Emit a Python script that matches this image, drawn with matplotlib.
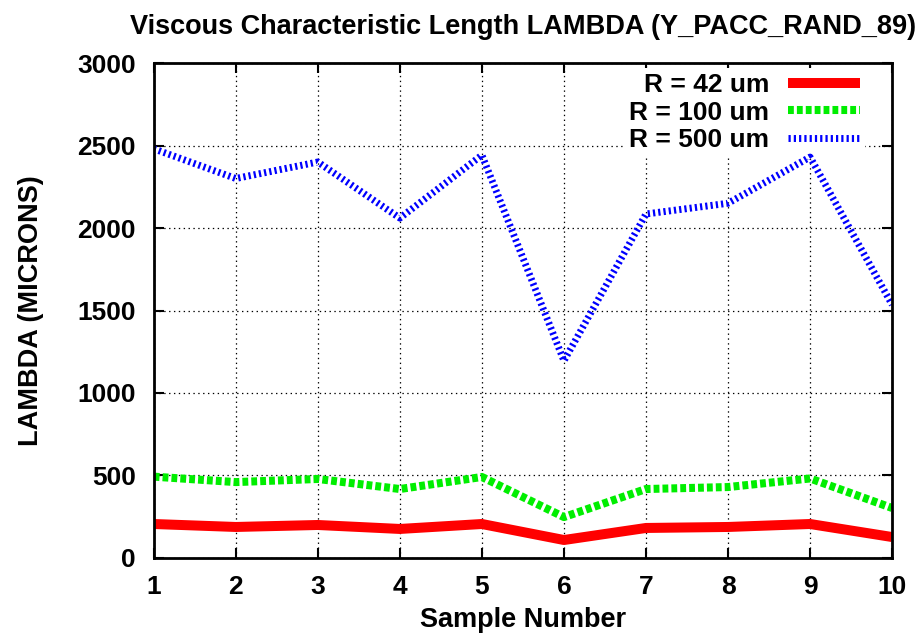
import numpy as np
import matplotlib.pyplot as plt

plt.rcParams['font.family'] = ['Liberation Sans', 'DejaVu Sans']
plt.rcParams['font.weight'] = 'bold'
plt.rcParams['lines.scale_dashes'] = False

samples = [1, 2, 3, 4, 5, 6, 7, 8, 9, 10]
r42 = [206, 188, 200, 176, 206, 109, 182, 188, 206, 127]
r100 = [493, 460, 479, 418, 491, 248, 418, 430, 482, 303]
r500 = [2480, 2300, 2400, 2060, 2442, 1195, 2085, 2150, 2430, 1535]
labels = ['R = 42 um', 'R = 100 um', 'R = 500 um']

fig = plt.figure(figsize=(9.15, 6.41), dpi=100)
ax = fig.add_axes([0.168, 0.1295, 0.807, 0.7722])

ax.plot(samples, r42, color='#ff0000', lw=7.2, solid_capstyle='butt', label=labels[0])
ax.plot(samples, r100, color='#00ee00', lw=5.8, dashes=(4.2, 2.2), label=labels[1])
ax.plot(samples, r500, color='#0000ff', lw=5.0, dashes=(1.6, 2.2), label=labels[2])

ax.set_xlim(1, 10)
ax.set_ylim(0, 3000)
ax.set_xticks(samples)
ax.set_yticks(np.arange(0, 3001, 500))
ax.tick_params(direction='in', length=7, width=1.5, top=True, right=True, labelsize=19)
ax.tick_params(axis='y', pad=13)
ax.tick_params(axis='x', pad=12)
ax.grid(True, color='black', linestyle=(0, (1, 2.5)), lw=0.9)
for s in ax.spines.values():
    s.set_linewidth(2)

ax.set_xlabel('Sample Number', fontsize=19.5, fontweight='bold', labelpad=6)
ax.set_ylabel('LAMBDA (MICRONS)', fontsize=19.5, fontweight='bold', labelpad=24)
ax.set_title('Viscous Characteristic Length LAMBDA (Y_PACC_RAND_89)', fontsize=19.5,
             fontweight='bold', pad=21)

leg = ax.legend(loc='upper right', bbox_to_anchor=(0.9638, 0.99),
                markerfirst=False, fontsize=19, frameon=True,
                framealpha=1, edgecolor='none', fancybox=False, handlelength=2.75,
                labelspacing=0.13, borderaxespad=0, handletextpad=0.7,
                borderpad=0.2)
leg.set_zorder(1.8)  # hide the grid behind the key, keep the curves on top
for t in leg.get_texts():
    t.set_fontweight('bold')
    t.set_ha('right')

fig.savefig('out.png', dpi=100)
